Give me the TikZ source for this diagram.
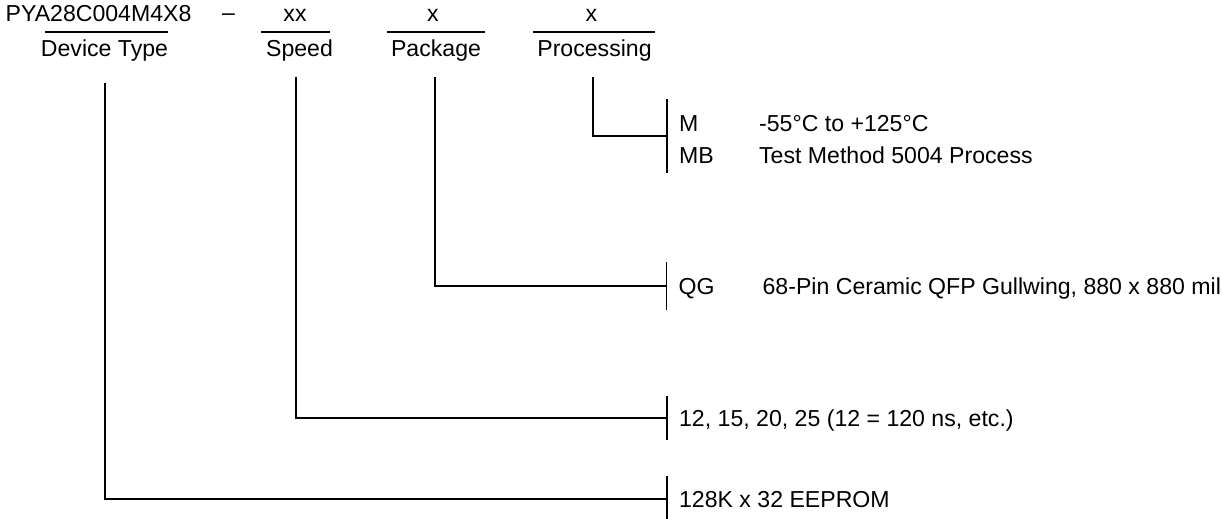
\documentclass[tikz,border=0pt]{standalone}
\usepackage{fontspec}
\setmainfont{Liberation Sans}

\begin{document}
\begin{tikzpicture}[x=0.5pt,y=-0.5pt,line width=0.65pt,
    font=\fontsize{11.55pt}{16pt}\selectfont,
    head/.style={anchor=base,inner sep=0pt},
    opt/.style={anchor=west,inner xsep=5.75pt,inner ysep=0pt,text height=8.27pt,text depth=0pt,minimum height=#1}]
    \useasboundingbox (0,0) rectangle (1222,519);
    % part number fields
    \node (pn) at (5,22) [head,anchor=base west] {PYA28C004M4X8};
    \node (dash) at (228.5,21) [head] {\textendash};
    \node (sx) at (295,22) [head] {xx};
    \node (px) at (433,22) [head] {x};
    \node (rx) at (591.5,22) [head] {x};
    \draw (45,32) -- (168,32);
    \draw (261,32) -- (330,32);
    \draw (387,32) -- (485,32);
    \draw (533,32) -- (655,32);
    \node (dev) at (104.5,57) [head] {Device Type};
    \node (spd) at (299.5,57) [head] {Speed};
    \node (pkg) at (436,57) [head] {Package};
    \node (proc) at (594.5,57) [head] {Processing};
    \coordinate (devtop) at (105,83);
    \coordinate (spdtop) at (296,77);
    \coordinate (pkgtop) at (435,77);
    \coordinate (proctop) at (593,77);
    % options
    \node (mb) at (667,136) [opt=36pt,text depth=13pt] {\begin{tabular}[t]{@{}p{40pt}@{}l@{}}
      M & -55°C to +125°C\\
      MB & Test Method 5004 Process
    \end{tabular}};
    \node (qg) at (666.5,286) [opt=23.5pt] {\makebox[42pt][l]{QG}68-Pin Ceramic QFP Gullwing, 880 x 880 mil};
    \node (ns) at (667,418) [opt=21pt] {12, 15, 20, 25 (12 = 120 ns, etc.)};
    \node (eep) at (667,499) [opt=22pt] {128K x 32 EEPROM};
    \draw (mb.north west) -- (mb.south west);
    \draw (qg.north west) -- (qg.south west);
    \draw (ns.north west) -- (ns.south west);
    \draw (eep.north west) -- (eep.south west);
    \draw (proctop) |- (mb.west);
    \draw (pkgtop) |- (qg.west);
    \draw (spdtop) |- (ns.west);
    \draw (devtop) |- (eep.west);
\end{tikzpicture}
\end{document}
